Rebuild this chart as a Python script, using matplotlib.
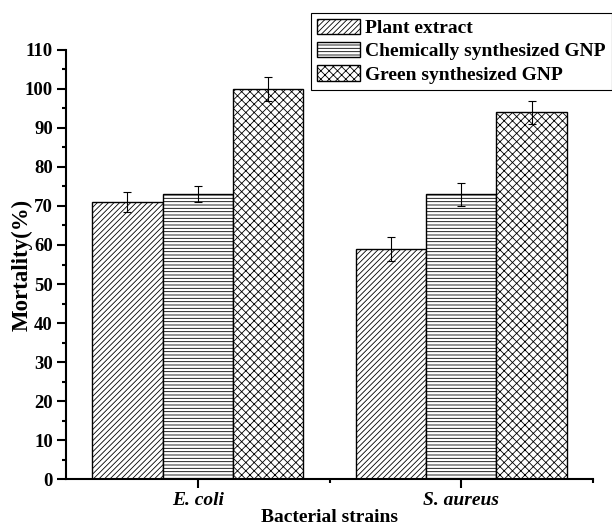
import numpy as np
import matplotlib
matplotlib.use("Agg")
import matplotlib.pyplot as plt
from matplotlib.ticker import MultipleLocator, FixedLocator

plt.rcParams['font.family'] = ['Liberation Serif', 'DejaVu Serif']
plt.rcParams['font.weight'] = 'bold'
plt.rcParams['hatch.linewidth'] = 0.6

# data
strains = ['E. coli', 'S. aureus']
series = ['Plant extract', 'Chemically synthesized GNP', 'Green synthesized GNP']
mortality = {
    'Plant extract': [71, 59],
    'Chemically synthesized GNP': [73, 73],
    'Green synthesized GNP': [100, 94],
}
errors = {
    'Plant extract': [2.5, 3],
    'Chemically synthesized GNP': [2, 3],
    'Green synthesized GNP': [3, 3],
}
hatches = ['//////', '-----', 'xxxx']

fig = plt.figure(figsize=(6.12, 5.29), dpi=100)
ax = fig.add_axes([0.1078, 0.0945, 0.8612, 0.811])

x = np.arange(1, len(strains) + 1)
w = 0.8 / 3
for i, name in enumerate(series):
    pos = x + (i - 1) * w
    ax.bar(pos, mortality[name], width=w, color='white', edgecolor='black',
           hatch=hatches[i], linewidth=1.0, label=name)
    ax.errorbar(pos, mortality[name], yerr=errors[name], fmt='none',
                ecolor='black', elinewidth=0.8, capsize=3, capthick=0.8)

ax.set_xlim(0.5, 2.5)
ax.set_ylim(0, 110)
ax.yaxis.set_major_locator(MultipleLocator(10))
ax.yaxis.set_minor_locator(MultipleLocator(5))
ax.set_xticks(x)
ax.set_xticklabels(strains, fontstyle='italic', fontsize=14, fontweight='bold')
ax.xaxis.set_minor_locator(FixedLocator([1.5, 2.5]))
for lab in ax.get_yticklabels():
    lab.set_fontsize(13.5)
    lab.set_fontweight('bold')

ax.spines['top'].set_visible(False)
ax.spines['right'].set_visible(False)
for s in ['left', 'bottom']:
    ax.spines[s].set_linewidth(1.5)
ax.tick_params(which='major', direction='out', length=6.5, width=1.5, pad=3)
ax.tick_params(which='minor', direction='out', length=3, width=1.5)
ax.tick_params(axis='x', which='major', pad=3)

ax.set_xlabel('Bacterial strains', fontsize=14, fontweight='bold', labelpad=0)
ax.set_ylabel('Mortality(%)', fontsize=16.5, fontweight='bold')
ax.yaxis.set_label_coords(-0.064, 0.5)

leg = fig.legend(loc='upper right', bbox_to_anchor=(0.9995, 0.976), fontsize=14,
                 frameon=True, fancybox=False, edgecolor='black', framealpha=1,
                 handlelength=2.2, handleheight=0.85, handletextpad=0.3,
                 borderpad=0.3, labelspacing=0.25, borderaxespad=0)
leg.get_frame().set_linewidth(0.8)

fig.savefig('out.png', dpi=100)
